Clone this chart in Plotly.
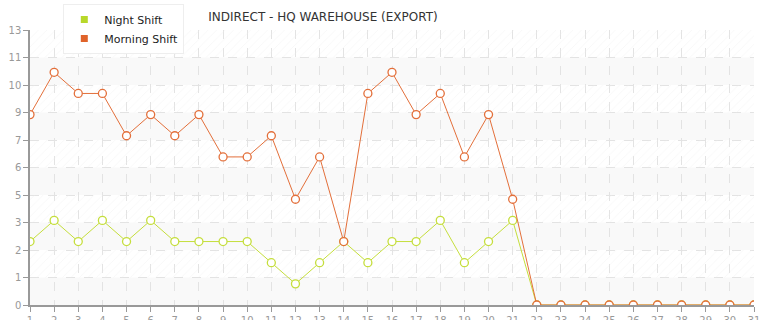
import plotly.graph_objects as go

# ---- data ----
days = list(range(1, 32))
night_shift = [3, 4, 3, 4, 3, 4, 3, 3, 3, 3, 2, 1, 2, 3, 2, 3, 3, 4, 2, 3, 4,
               0, 0, 0, 0, 0, 0, 0, 0, 0, 0]
morning_shift = [9, 11, 10, 10, 8, 9, 8, 9, 7, 7, 8, 5, 7, 3, 10, 11, 9, 10, 7, 9, 5,
                 0, 0, 0, 0, 0, 0, 0, 0, 0, 0]
y_max = 13
y_tick_labels = ["0", "1", "2", "3", "5", "6", "7", "9", "10", "11", "13"]
x_tick_labels = [str(d) for d in days]
title_text = "INDIRECT - HQ WAREHOUSE (EXPORT)"

GREEN = "#c5de3c"
ORANGE = "#e36f3a"

n_int = len(y_tick_labels) - 1
step = y_max / n_int
y_tick_vals = [k * step for k in range(n_int + 1)]

fig = go.Figure()

# hatched background bands (odd intervals)
hatch_k = [k for k in range(n_int) if k % 2 == 1]
fig.add_trace(go.Bar(
    x=[16] * len(hatch_k), y=[step] * len(hatch_k),
    base=[k * step for k in hatch_k], width=30,
    marker=dict(color="rgba(0,0,0,0)", line=dict(width=0),
                pattern=dict(shape="/", size=6, solidity=0.12,
                             fgcolor="#ebebeb", bgcolor="rgba(0,0,0,0)")),
    hoverinfo="skip", showlegend=False,
))

# plain bands (even intervals) as shapes below grid
for k in range(n_int):
    if k % 2 == 0:
        fig.add_shape(type="rect", xref="x", yref="y", x0=1, x1=31,
                      y0=k * step, y1=(k + 1) * step,
                      fillcolor="#f9f9f9", line=dict(width=0), layer="below")

fig.add_trace(go.Scatter(
    x=days, y=night_shift, mode="lines+markers", name="Night Shift",
    line=dict(color=GREEN, width=1),
    marker=dict(symbol="circle", size=8, color="white",
                line=dict(color=GREEN, width=1.3)),
    showlegend=False,
))
fig.add_trace(go.Scatter(
    x=days, y=morning_shift, mode="lines+markers", name="Morning Shift",
    line=dict(color=ORANGE, width=1),
    marker=dict(symbol="circle", size=8, color="white",
                line=dict(color=ORANGE, width=1.3)),
    showlegend=False,
))
# legend entries (square swatches)
fig.add_trace(go.Scatter(x=[None], y=[None], mode="markers", name="Night Shift",
                         marker=dict(symbol="square", size=7, color="#b8d82a")))
fig.add_trace(go.Scatter(x=[None], y=[None], mode="markers", name="Morning Shift",
                         marker=dict(symbol="square", size=7, color="#e0632a")))

fig.update_layout(
    width=765, height=320,
    margin=dict(l=30, r=11, t=30, b=15, autoexpand=False),
    paper_bgcolor="white", plot_bgcolor="white",
    barmode="overlay",
    font=dict(family="DejaVu Sans, Verdana, sans-serif", color="#999999", size=10),
    title=dict(text=title_text, x=323 / 765, xanchor="center",
               y=1 - 17 / 320, yanchor="middle", yref="container",
               font=dict(size=12, color="#333333",
                         family="DejaVu Sans, Verdana, sans-serif")),
    legend=dict(x=0.046, y=1.095, xanchor="left", yanchor="top",
                bgcolor="white", bordercolor="#eeeeee", borderwidth=1,
                font=dict(size=11, color="#222222"), tracegroupgap=0,
                itemsizing="trace", itemwidth=30),
    showlegend=True,
)
fig.update_xaxes(
    range=[1, 31], tickmode="array", tickvals=days, ticktext=x_tick_labels,
    showline=True, linecolor="#999999", linewidth=1.5,
    ticks="outside", ticklen=5, tickcolor="#999999",
    showgrid=True, gridcolor="#e3e3e3", griddash="dash", gridwidth=1,
    zeroline=False, automargin=False, fixedrange=True,
)
fig.update_yaxes(
    range=[0, y_max], tickmode="array", tickvals=y_tick_vals, ticktext=y_tick_labels,
    showline=True, linecolor="#999999", linewidth=1.5,
    ticks="outside", ticklen=5, tickcolor="#999999",
    showgrid=True, gridcolor="#e3e3e3", griddash="dash", gridwidth=1,
    zeroline=False, automargin=False, fixedrange=True,
)

fig.write_html("out.html")
